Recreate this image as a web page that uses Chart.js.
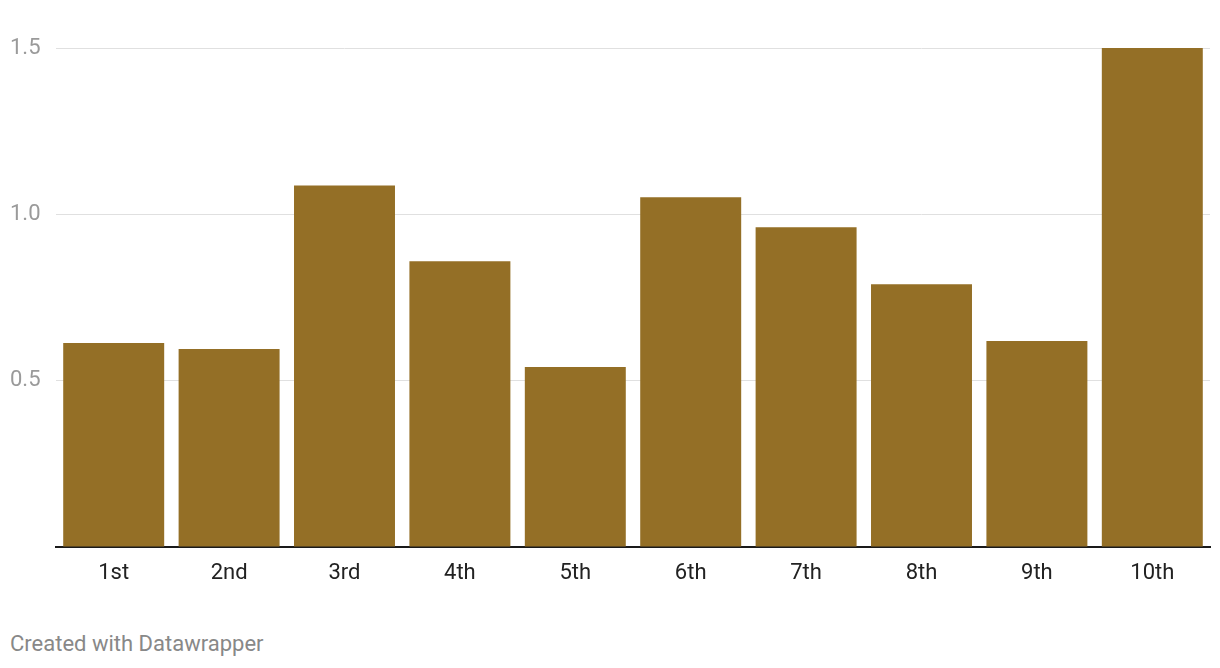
<!DOCTYPE html>
<html>
<head>
<meta charset="utf-8">
<script src="https://cdn.jsdelivr.net/npm/chart.js@4.4.0/dist/chart.umd.min.js"></script>
<style>
  body { margin: 0; background: #fff; font-family: Roboto, sans-serif; }
  #wrap { position: relative; width: 1220px; height: 600px; }
  #footer { position: absolute; left: 10px; top: 630px; font-size: 22px; line-height: 28px; color: #888; }
</style>
</head>
<body>
<div id="wrap"><canvas id="barChart"></canvas></div>
<div id="footer">Created with Datawrapper</div>
<script>
// dữ liệu
var labels = ['1st', '2nd', '3rd', '4th', '5th', '6th', '7th', '8th', '9th', '10th'];
var values = [0.613, 0.595, 1.087, 0.859, 0.541, 1.051, 0.961, 0.790, 0.619, 1.5];
var yTicks = [0.5, 1.0, 1.5];

var ctx = document.getElementById('barChart').getContext('2d');
var myChart = new Chart(ctx, {
    type: 'bar',
    data: {
        labels: labels,
        datasets: [{
            data: values,
            backgroundColor: '#946F26',
            barPercentage: 0.875,
            categoryPercentage: 1
        }]
    },
    options: {
        responsive: true,
        maintainAspectRatio: false,
        animation: false,
        layout: { padding: { left: 10, right: 10, top: 48, bottom: 0 } },
        plugins: { legend: { display: false }, tooltip: { enabled: false } },
        scales: {
            x: {
                grid: { display: false, drawTicks: false },
                border: { display: true, color: '#1a1a1a', width: 2 },
                ticks: { color: '#222', font: { family: 'Roboto', size: 22 }, padding: 13 },
                afterFit: function(s) { s.height = 53; }
            },
            y: {
                min: 0,
                max: 1.5,
                afterBuildTicks: function(s) {
                    s.ticks = [0].concat(yTicks).map(v => ({ value: v }));
                },
                grid: {
                    drawTicks: false,
                    color: function(c) { return c.tick.value === 0 ? 'rgba(0,0,0,0)' : '#e0e0e0'; },
                    lineWidth: 1
                },
                border: { display: false },
                ticks: {
                    color: '#9a9a9a',
                    font: { family: 'Roboto', size: 22 },
                    crossAlign: 'far',
                    padding: 0,
                    callback: function(v) { return v === 0 ? '' : v.toFixed(1); }
                },
                afterFit: function(s) { s.width = 46; }
            }
        }
    }
});
</script>
</body>
</html>
